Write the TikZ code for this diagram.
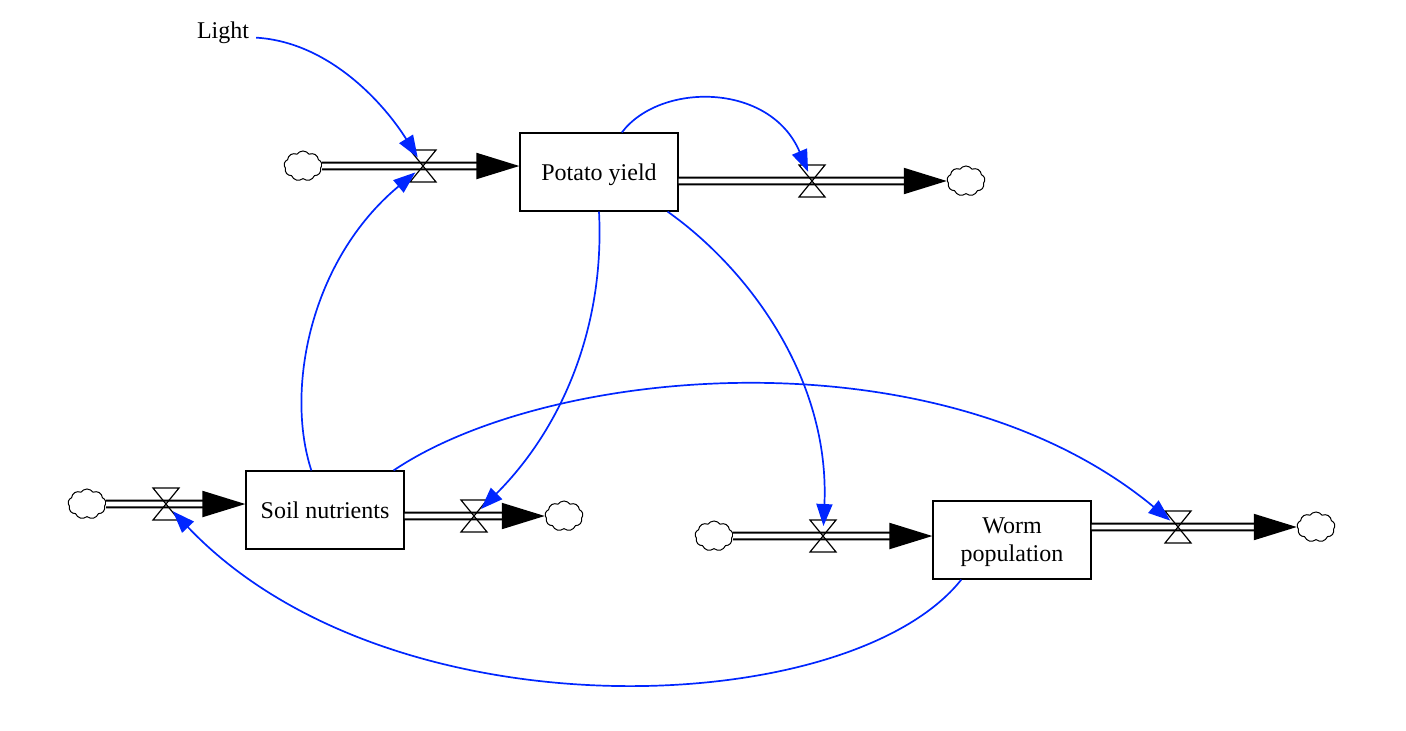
\documentclass[tikz,border=0pt]{standalone}
\usepackage{fontspec}
\setmainfont{Liberation Serif}
\usetikzlibrary{arrows.meta,shapes.symbols,calc}
\definecolor{linkblue}{RGB}{0,38,255}

\begin{document}
\begin{tikzpicture}[x=0.5pt,y=-0.5pt,
    every node/.style={font=\fontsize{12}{14}\selectfont},
    stock/.style={draw,line width=0.6pt,minimum width=79pt,minimum height=39pt,align=center,inner sep=2pt,text depth=0pt},
    cloudy/.style={cloud,cloud puffs=9,cloud puff arc=110,aspect=1.3,draw,line width=0.5pt,
                   minimum width=19pt,minimum height=15pt,inner sep=0},
    pipe/.style={double,line width=1pt,double distance=2.4pt,-{Triangle[length=21.5pt,width=13pt]}},
    valve/.style={draw,line width=0.6pt},
    link/.style={draw=linkblue,line width=0.85pt,-{Triangle[length=11pt,width=8pt,fill=linkblue]},shorten >=5pt}
  ]
    \useasboundingbox (0,0) rectangle (1406,730);
    %%% Stocks
    \node[stock] (potato) at (599,172) {Potato yield};
    \node[stock] (soil) at (325,510) {Soil nutrients};
    \node[stock,text depth=-3pt] (worm) at (1012,540) {Worm\\population};
    \node (light) at (223,33) {Light};
    %%% Bronnen en putten
    \node[cloudy] (pin) at (303,166) {};
    \node[cloudy] (pout) at (966,181) {};
    \node[cloudy] (sin) at (87,504) {};
    \node[cloudy] (sout) at (564,516) {};
    \node[cloudy] (win) at (714,536) {};
    \node[cloudy] (wout) at (1316,527) {};
    %%% Kleppen
    \coordinate (vpin) at (423,166);
    \coordinate (vpout) at (812,181);
    \coordinate (vsin) at (166,504);
    \coordinate (vsout) at (474,516);
    \coordinate (vwin) at (823,536);
    \coordinate (vwout) at (1178,527);
    %%% Stromen
    \draw[pipe] (pin) -- (potato.west |- pin);
    \draw[pipe] (potato.east |- pout) -- (pout);
    \draw[pipe] (sin) -- (soil.west |- sin);
    \draw[pipe] (soil.east |- sout) -- (sout);
    \draw[pipe] (win) -- (worm.west |- win);
    \draw[pipe] (worm.east |- wout) -- (wout);
    \foreach \v in {vpin,vpout,vsin,vsout,vwin,vwout}
        \draw[valve] ($(\v)+(-13,-16)$) -- ++(26,0) -- ++(-26,32) -- ++(26,0) -- cycle;
    %%% Verbanden
    \draw[link] (light.-8) .. controls (330,42) and (385,105) .. (vpin);
    \draw[link] (soil.109) .. controls (285,390) and (310,260) .. (vpin);
    \draw[link] (potato.60) .. controls (660,82) and (770,82) .. (vpout);
    \draw[link] (potato.south) .. controls (605,330) and (560,430) .. (vsout);
    \draw[link] (potato.-30) .. controls (750,270) and (830,380) .. (vwin);
    \draw[link] (soil.30) .. controls (550,365) and (940,330) .. (vwout);
    \draw[link] (worm.-142) .. controls (850,720) and (390,740) .. (vsin);
\end{tikzpicture}
\end{document}
